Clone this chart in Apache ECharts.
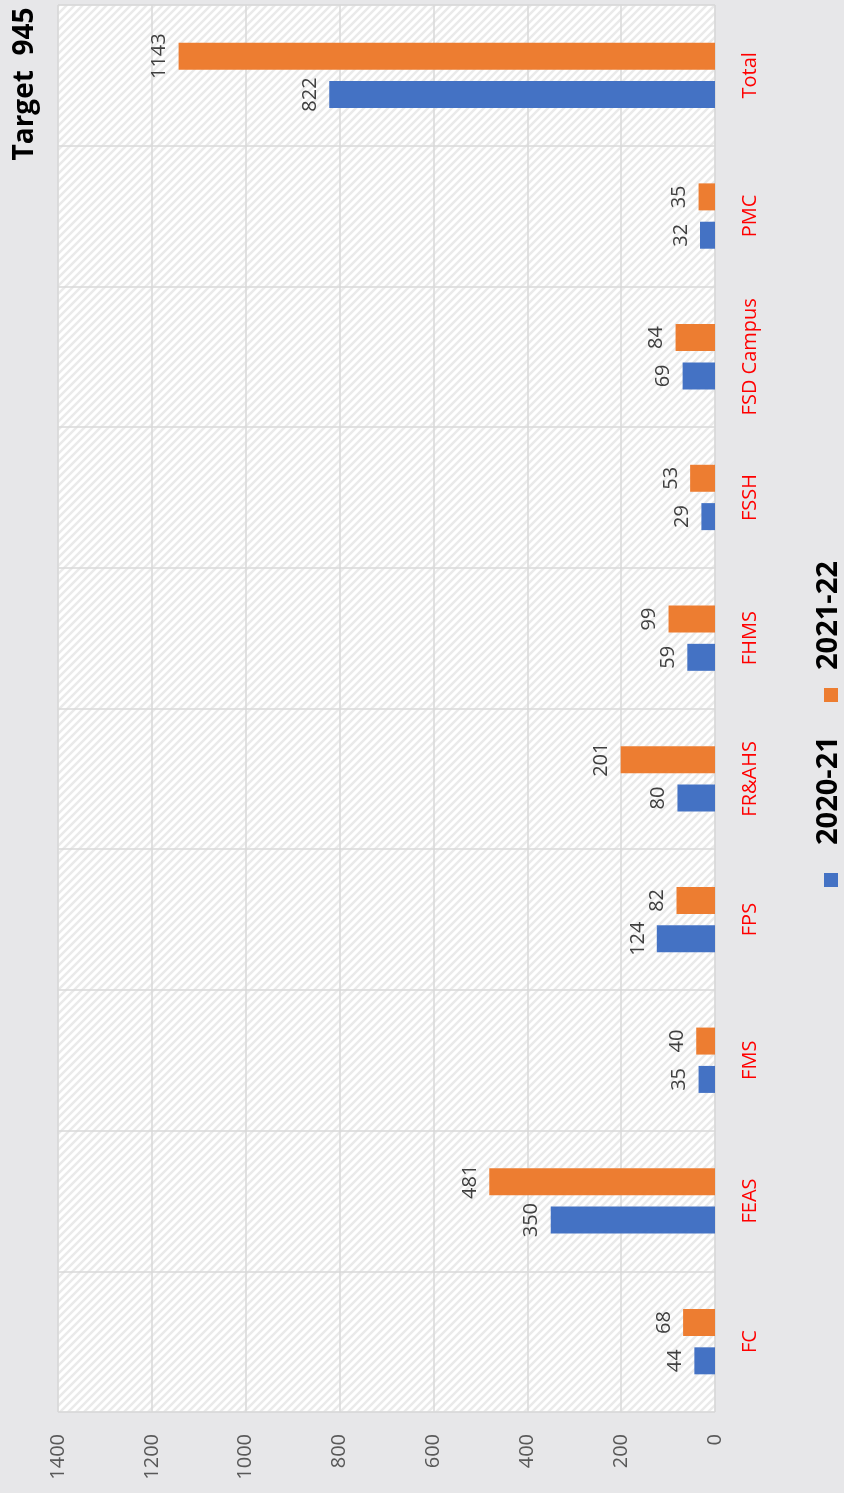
<!DOCTYPE html>
<html lang="en">
<head>
    <meta charset="utf-8">
    <title>Target 945</title>
    <script src="https://cdn.jsdelivr.net/npm/echarts@6/dist/echarts.min.js"></script>
    <style>
        html, body { margin: 0; padding: 0; background: #e7e7e9; }
        #main { width: 844px; height: 1493px; }
    </style>
</head>
<body>
<div id="main"></div>

<script type="text/javascript">
    // data
    var categories = ['FC', 'FEAS', 'FMS', 'FPS', 'FR&AHS', 'FHMS', 'FSSH', 'FSD Campus', 'PMC', 'Total'];
    var seriesNames = ['2020-21', '2021-22'];
    var values2020 = [44, 350, 35, 124, 80, 59, 29, 69, 32, 822];
    var values2021 = [68, 481, 40, 82, 201, 99, 53, 84, 35, 1143];
    var titleText = 'Target  945';

    var colors = ['#4472c4', '#ed7d31'];
    var font = '"Open Sans", sans-serif';

    // hatched plot background
    var tile = document.createElement('canvas');
    tile.width = 8;
    tile.height = 8;
    var ctx = tile.getContext('2d');
    ctx.fillStyle = '#ffffff';
    ctx.fillRect(0, 0, 8, 8);
    ctx.strokeStyle = '#eaeaea';
    ctx.lineWidth = 2.5;
    ctx.beginPath();
    ctx.moveTo(-1, 9); ctx.lineTo(9, -1);
    ctx.moveTo(-5, 5); ctx.lineTo(5, -5);
    ctx.moveTo(3, 13); ctx.lineTo(13, 3);
    ctx.stroke();

    var myChart = echarts.init(document.getElementById('main'));

    var barLabel = {
        show: true,
        position: 'left',
        distance: 9,
        rotate: 90,
        align: 'center',
        verticalAlign: 'bottom',
        color: '#404040',
        fontSize: 20,
        fontFamily: font
    };

    // rotated legend built from the series names (reads bottom to top)
    var legendGraphics = [];
    var squareY = [880, 695];
    var textY = [845, 670];
    seriesNames.forEach(function (name, i) {
        legendGraphics.push({
            type: 'rect',
            shape: { x: 824, y: squareY[i] - 7, width: 14, height: 14 },
            style: { fill: colors[i] }
        });
        legendGraphics.push({
            type: 'text',
            x: 829,
            y: textY[i],
            rotation: Math.PI / 2,
            style: {
                text: name,
                font: 'bold 29px ' + font,
                fill: '#000000',
                align: 'left',
                verticalAlign: 'middle'
            }
        });
    });

    myChart.setOption({
        backgroundColor: '#e7e7e9',
        animation: false,
        grid: {
            left: 58,
            right: 129,
            top: 5,
            bottom: 81,
            show: true,
            borderColor: '#d9d9d9',
            borderWidth: 1,
            backgroundColor: { image: tile, repeat: 'repeat' }
        },
        xAxis: {
            type: 'value',
            inverse: true,
            min: 0,
            max: 1400,
            interval: 200,
            axisLine: { show: false },
            axisTick: { show: false },
            splitLine: { lineStyle: { color: '#d9d9d9', width: 1.5 } },
            axisLabel: {
                rotate: 90,
                margin: 22,
                align: 'right',
                verticalAlign: 'middle',
                color: '#595959',
                fontSize: 20,
                fontFamily: font,
                formatter: function (v) { return String(v); }
            }
        },
        yAxis: {
            type: 'category',
            position: 'right',
            data: categories,
            axisLine: { show: false },
            axisTick: { show: false },
            splitLine: { show: true, interval: 0, lineStyle: { color: '#d9d9d9', width: 1.5 } },
            axisLabel: {
                interval: 0,
                rotate: 90,
                margin: 25,
                align: 'center',
                verticalAlign: 'top',
                color: '#ff0000',
                fontSize: 20,
                fontFamily: font
            }
        },
        graphic: [{
            type: 'text',
            x: 25,
            y: 84,
            rotation: Math.PI / 2,
            style: {
                text: titleText,
                font: 'bold 28px ' + font,
                fill: '#000000',
                align: 'center',
                verticalAlign: 'middle'
            }
        }].concat(legendGraphics),
        // 2021-22 listed first so it sits above 2020-21 in each band
        series: [{
            name: seriesNames[1],
            type: 'bar',
            data: values2021,
            barWidth: 27,
            barGap: '42%',
            itemStyle: { color: colors[1] },
            label: barLabel
        }, {
            name: seriesNames[0],
            type: 'bar',
            data: values2020,
            barWidth: 27,
            barGap: '42%',
            itemStyle: { color: colors[0] },
            label: barLabel
        }]
    });
</script>
</body>
</html>
